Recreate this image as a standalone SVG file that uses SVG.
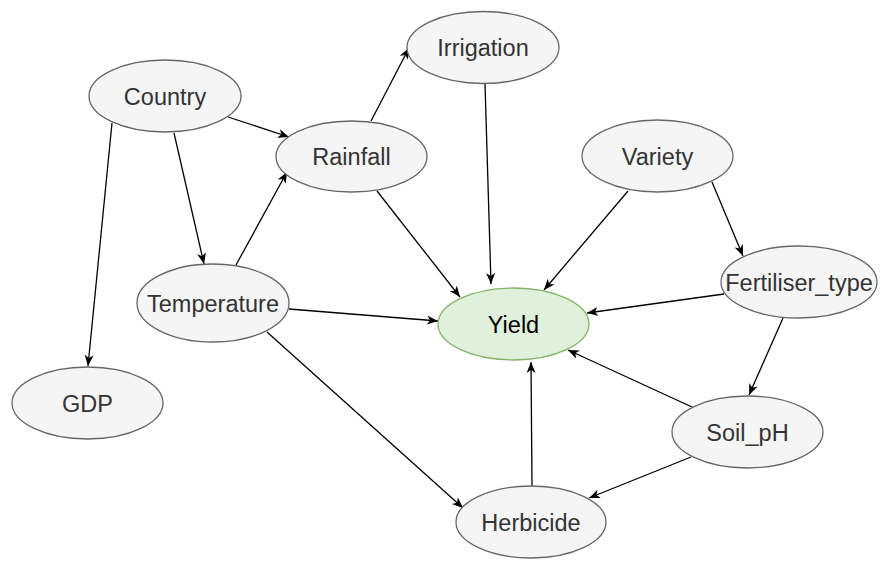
<svg xmlns="http://www.w3.org/2000/svg" width="890" height="572" viewBox="0 0 890 572">
<defs>
<marker id="arr" markerWidth="12" markerHeight="10" refX="11" refY="4.5" orient="auto" markerUnits="userSpaceOnUse">
<path d="M0,0 L11,4.5 L0,9 L3,4.5 Z" fill="#000"/>
</marker>
<style>
.n ellipse{fill:#f5f5f5;stroke:#666666;stroke-width:1.3}
.n text{font-family:"Liberation Sans",Arial,sans-serif;font-size:23.5px;fill:#333333;text-anchor:middle}
#yield ellipse{fill:#dff1db;stroke:#82b366}
#yield text{fill:#000000}
.e line{stroke:#000;stroke-width:1.3;marker-end:url(#arr)}
</style>
</defs>
<rect width="890" height="572" fill="#ffffff"/>
<g class="e" id="connectors">
<line x1="228" y1="117" x2="289" y2="137"/>
<line x1="112" y1="123" x2="88" y2="366"/>
<line x1="174" y1="133" x2="204" y2="264"/>
<line x1="236" y1="265" x2="287" y2="172"/>
<line x1="371" y1="121" x2="409" y2="48"/>
<line x1="485" y1="84" x2="491" y2="284"/>
<line x1="377" y1="191" x2="460" y2="297"/>
<line x1="628" y1="191" x2="544" y2="290"/>
<line x1="712" y1="182" x2="743" y2="256"/>
<line x1="724" y1="294" x2="587" y2="313"/>
<line x1="289" y1="309" x2="438" y2="321"/>
<line x1="267" y1="332" x2="463" y2="508"/>
<line x1="783" y1="318" x2="749" y2="395"/>
<line x1="692" y1="407" x2="568" y2="350"/>
<line x1="691" y1="457" x2="589" y2="498"/>
<line x1="532" y1="487" x2="531" y2="362"/>
</g>
<g class="n" id="country"><ellipse cx="165" cy="96" rx="76" ry="36"/><text x="165" y="104.5">Country</text></g>
<g class="n" id="irrigation"><ellipse cx="483" cy="47.5" rx="76" ry="36"/><text x="483" y="56">Irrigation</text></g>
<g class="n" id="rainfall"><ellipse cx="351.5" cy="156.5" rx="75.5" ry="35.5"/><text x="351.5" y="165">Rainfall</text></g>
<g class="n" id="variety"><ellipse cx="657.5" cy="156" rx="75.5" ry="36"/><text x="657.5" y="164.5">Variety</text></g>
<g class="n" id="temperature"><ellipse cx="213" cy="303" rx="76" ry="39"/><text x="213" y="311.5">Temperature</text></g>
<g class="n" id="yield"><ellipse cx="513.5" cy="324" rx="75.5" ry="36"/><text x="513.5" y="332.5">Yield</text></g>
<g class="n" id="fertiliser_type"><ellipse cx="799" cy="282" rx="78" ry="36"/><text x="799" y="290.5">Fertiliser_type</text></g>
<g class="n" id="gdp"><ellipse cx="87.5" cy="403" rx="75.5" ry="36"/><text x="87.5" y="411.5">GDP</text></g>
<g class="n" id="soil_ph"><ellipse cx="747.5" cy="432" rx="75.5" ry="36"/><text x="747.5" y="440.5">Soil_pH</text></g>
<g class="n" id="herbicide"><ellipse cx="531" cy="522" rx="75" ry="36"/><text x="531" y="530.5">Herbicide</text></g>
</svg>
